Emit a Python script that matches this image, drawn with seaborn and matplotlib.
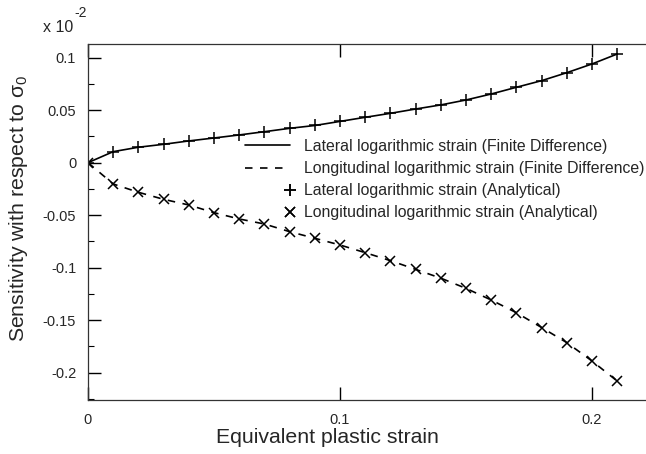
import numpy as np
import pandas as pd
import matplotlib
matplotlib.use("Agg")
import matplotlib.pyplot as plt
from matplotlib.legend_handler import HandlerLine2D
import seaborn as sns

# equivalent plastic strain samples
strain = [0.00, 0.01, 0.02, 0.03, 0.04, 0.05, 0.06, 0.07, 0.08, 0.09, 0.10,
          0.11, 0.12, 0.13, 0.14, 0.15, 0.16, 0.17, 0.18, 0.19, 0.20, 0.21]

# sensitivity (x 10^-2)
lateral = [0.0, 0.0105, 0.0147, 0.0175, 0.0207, 0.0235, 0.0264, 0.0295, 0.0327,
           0.0354, 0.0393, 0.0432, 0.0470, 0.0511, 0.0550, 0.0597, 0.0654,
           0.0718, 0.0781, 0.0857, 0.0940, 0.1035]
longitudinal = [0.0, -0.0203, -0.0282, -0.0349, -0.0403, -0.0476, -0.0536,
                -0.0584, -0.0657, -0.0720, -0.0784, -0.0857, -0.0933, -0.1016,
                -0.1100, -0.1197, -0.1308, -0.1429, -0.1570, -0.1714, -0.1889,
                -0.2080]

yticks = [0.1, 0.05, 0, -0.05, -0.1, -0.15, -0.2]
ytick_labels = ["0.1", "0.05", "0", "-0.05", "-0.1", "-0.15", "-0.2"]
xticks = [0, 0.1, 0.2]
xtick_labels = ["0", "0.1", "0.2"]

df = pd.DataFrame({"strain": strain, "lat": lateral, "lon": longitudinal})


# legend markers sit at the right end of the handle, like the original
class RightMarker(HandlerLine2D):
    def get_xdata(self, legend, xdescent, ydescent, width, height, fontsize):
        x = width - xdescent
        return [x, x], [x, x]


sns.set_style("ticks")
plt.rcParams["font.family"] = ["Liberation Sans", "DejaVu Sans"]
plt.rcParams["mathtext.fontset"] = "custom"
plt.rcParams["mathtext.rm"] = "Liberation Sans"
plt.rcParams["mathtext.it"] = "Liberation Sans"

fig = plt.figure(figsize=(6.46, 4.54), dpi=100)
ax = fig.add_axes([88 / 646, 54 / 454, 560 / 646, 356 / 454])

sns.lineplot(data=df, x="strain", y="lat", ax=ax, color="black", lw=1.2,
             label="Lateral logarithmic strain (Finite Difference)")
sns.lineplot(data=df, x="strain", y="lon", ax=ax, color="black", lw=1.2,
             linestyle=(0, (4.5, 4.5)),
             label="Longitudinal logarithmic strain (Finite Difference)")
sns.lineplot(data=df, x="strain", y="lat", ax=ax, color="black",
             linestyle="none", marker="+", markersize=9, markeredgewidth=1.1,
             markeredgecolor="black",
             label="Lateral logarithmic strain (Analytical)")
sns.lineplot(data=df, x="strain", y="lon", ax=ax, color="black",
             linestyle="none", marker="x", markersize=7.5, markeredgewidth=1.1,
             markeredgecolor="black",
             label="Longitudinal logarithmic strain (Analytical)")

# plot area runs off the right edge of the picture
ax.set_xlim(0, 0.2222)
ax.set_ylim(-0.226, 0.113)
ax.set_xticks(xticks)
ax.set_xticklabels(xtick_labels)
ax.set_yticks(yticks)
ax.set_yticklabels(ytick_labels)
ax.set_yticks(np.arange(-0.225, 0.11, 0.025), minor=True)
ax.tick_params(which="both", direction="in", top=True, right=False,
               labelsize=10.5, color="black")
ax.tick_params(axis="x", pad=9)
ax.tick_params(axis="y", pad=8.5)
ax.tick_params(which="major", length=9.5, width=1)
ax.tick_params(which="minor", length=4.5, width=0.8)
for s in ax.spines.values():
    s.set_linewidth(0.9)
    s.set_color("#333333")
ax.spines["right"].set_visible(False)

ax.set_xlabel("Equivalent plastic strain", fontsize=15.3)
ax.set_ylabel("Sensitivity with respect to σ$_0$", fontsize=15.3)
ax.xaxis.set_label_coords((327 - 88) / 560, -0.08)
ax.yaxis.set_label_coords(-58 / 560, (400 - 208) / 356)

fig.text(43 / 646, 1 - 27 / 454, "x 10", fontsize=11.5, va="center")
fig.text(74 / 646, 1 - 13 / 454, "-2", fontsize=10, va="center")

handles, labels = ax.get_legend_handles_labels()
ax.legend(handles, labels, loc="upper left",
          bbox_to_anchor=(245 / 646, 1 - 139 / 454),
          bbox_transform=fig.transFigure, frameon=False, fontsize=11.4,
          handlelength=2.85, handletextpad=0.85, labelspacing=0.45,
          borderpad=0, borderaxespad=0,
          handler_map={h: RightMarker(numpoints=2) for h in handles[2:]})

fig.savefig("out.png", dpi=100)
